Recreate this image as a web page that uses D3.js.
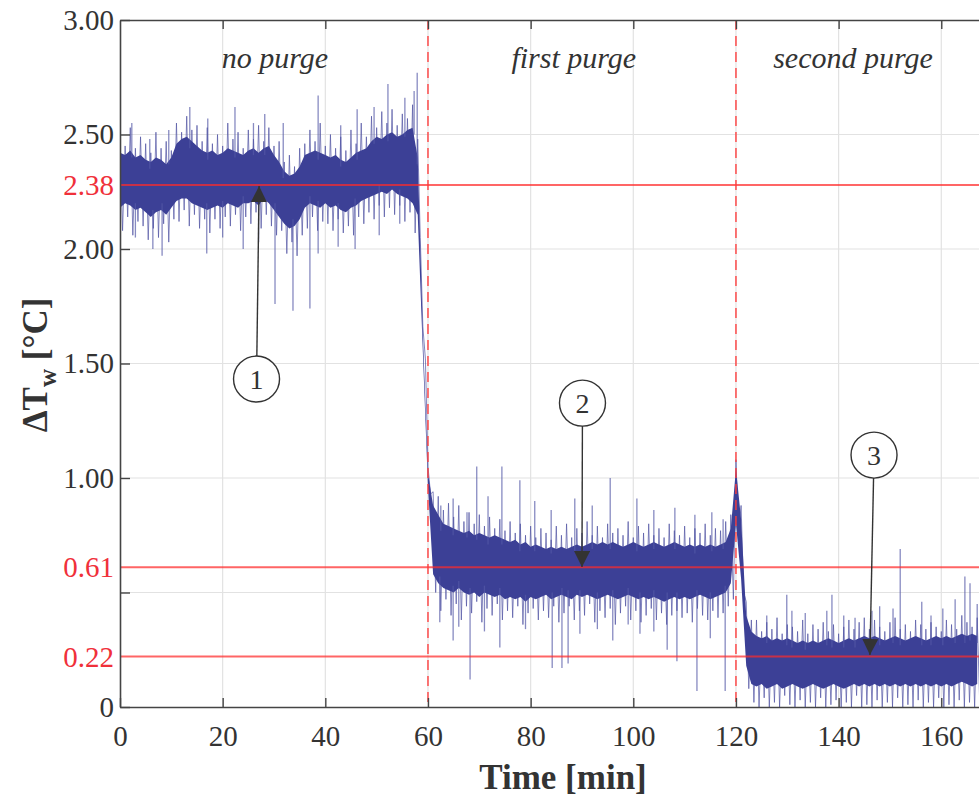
<!DOCTYPE html>
<html><head><meta charset="utf-8">
<script src="https://cdn.jsdelivr.net/npm/d3@7"></script>
<style>body{margin:0;background:#fff}</style>
</head><body><svg id="c" width="979" height="799"></svg>
<script>
// ---------- data ----------
const xTicks = [0,20,40,60,80,100,120,140,160];
const yTicks = [0,0.5,1,1.5,2,2.5,3];
const yTickLabels = ["0","","1.00","1.50","2.00","2.50","3.00"];
const refValues = [2.28, 0.61, 0.22];          // where the red lines are drawn in the picture
const refLabels = ["2.38","0.61","0.22"];
const phaseBounds = [60,120];
const phaseNames = ["no purge","first purge","second purge"];
const phaseLabelTimes = [30.2, 88.4, 142.8];
const phaseLabelValue = 2.79;

// dense core band of ΔTw per minute (index = minute 0..167)
const coreHi = [
 2.42,2.41,2.43,2.40,2.41, 2.39,2.38,2.40,2.39,2.37,2.40, 2.46,2.48,2.49,2.47,2.45,2.43,
 2.42,2.43,2.41,2.42,2.44,2.43,2.42,2.41, 2.43,2.44,2.42,2.44,2.45,2.41,2.38,
 2.34,2.32,2.33,2.36, 2.41,2.42,2.43,2.42,2.41, 2.40,2.41,2.39,2.38,2.40,2.42,2.43,2.44,
 2.47,2.49,2.48,2.50,2.51,2.49,2.50,2.52,2.53,
 2.40,1.63,1.02,0.88,
 .84,.80,.79,.78,.77,.76,.77,.75,.76,.75,.74,.75,.74,.73,.72,.73,.71,.72,.70,.71,.70,.69,.70,.69,
 .70,.69,.70,.71,.70,.71,.72,.71,.72,.71,.72,.71,.70,.71,.72,.71,.70,.71,.72,.71,.70,.71,.72,.71,
 .70,.71,.70,.71,.70,.71,.70,.71,.72,.78,
 1.04,.82,.40,.33,
 .31,.30,.31,.29,.30,.29,.30,.29,.28,.29,.28,.29,.28,.29,.30,.29,.28,.29,.30,.29,.30,.31,.30,.31,
 .30,.29,.30,.31,.30,.29,.30,.31,.30,.29,.30,.31,.30,.31,.30,.31,.32,.31,.32,.31
];
const coreLo = [
 2.18,2.20,2.19,2.17,2.18, 2.16,2.14,2.16,2.17,2.15,2.18, 2.21,2.22,2.22,2.20,2.19,2.18,
 2.17,2.18,2.19,2.18,2.20,2.19,2.18,2.20, 2.20,2.21,2.19,2.22,2.20,2.17,2.14,
 2.11,2.09,2.10,2.13, 2.18,2.20,2.19,2.18,2.20, 2.18,2.19,2.17,2.16,2.18,2.19,2.21,2.22,
 2.23,2.24,2.25,2.24,2.26,2.24,2.23,2.22,2.20,
 2.15,1.55,0.96,0.58,
 .54,.52,.51,.50,.52,.50,.49,.50,.48,.50,.49,.48,.49,.47,.48,.47,.48,.46,.48,.47,.48,.49,.47,.48,
 .49,.48,.47,.49,.48,.49,.48,.47,.48,.49,.48,.47,.48,.49,.48,.47,.48,.47,.48,.47,.46,.47,.48,.47,
 .48,.47,.48,.49,.48,.47,.48,.49,.50,.54,
 .80,.56,.18,.10,
 .09,.10,.08,.09,.10,.08,.09,.10,.09,.08,.09,.10,.09,.08,.09,.10,.09,.08,.09,.10,.09,.10,.09,.10,
 .09,.10,.09,.10,.09,.10,.09,.10,.09,.10,.09,.10,.09,.10,.09,.10,.11,.10,.09,.10
];
// ragged outer fringe of the noise per minute
const fringeHi = [
 2.50,2.45,2.53,2.44,2.49, 2.46,2.42,2.51,2.44,2.47,2.43, 2.55,2.51,2.58,2.52,2.54,2.47,
 2.53,2.46,2.50,2.45,2.55,2.48,2.51,2.44, 2.52,2.48,2.54,2.47,2.53,2.45,2.47,
 2.38,2.41,2.36,2.44, 2.46,2.52,2.47,2.55,2.45, 2.50,2.44,2.49,2.43,2.52,2.46,2.55,2.49,
 2.58,2.53,2.60,2.55,2.61,2.54,2.59,2.57,2.63,
 2.48,1.66,1.05,0.94,
 .92,.86,.89,.83,.88,.81,.85,.80,.84,.79,.83,.78,.82,.77,.81,.76,.80,.75,.79,.74,.78,.76,.73,.79,
 .75,.80,.74,.78,.76,.81,.75,.79,.74,.80,.76,.78,.75,.81,.74,.79,.76,.80,.75,.78,.74,.80,.77,.75,
 .79,.74,.78,.76,.80,.75,.78,.77,.81,.84,
 1.08,.88,.46,.38,
 .38,.33,.37,.34,.39,.32,.36,.35,.33,.38,.32,.36,.34,.37,.33,.36,.32,.35,.38,.34,.37,.39,.34,.38,
 .35,.33,.37,.39,.34,.36,.33,.38,.36,.34,.37,.35,.33,.38,.36,.34,.40,.37,.35,.39
];
const fringeLo = [
 2.08,2.14,2.06,2.12,2.10, 2.04,2.09,2.05,2.11,2.03,2.13, 2.12,2.17,2.10,2.15,2.09,2.13,
 2.07,2.13,2.09,2.14,2.10,2.15,2.08,2.14, 2.11,2.16,2.09,2.15,2.10,2.06,2.08,
 1.98,2.03,1.97,2.06, 2.09,2.14,2.08,2.12,2.11, 2.08,2.13,2.07,2.10,2.06,2.14,2.11,2.16,
 2.13,2.19,2.14,2.18,2.15,2.19,2.12,2.16,2.07,
 2.05,1.52,0.93,0.50,
 .42,.47,.40,.45,.38,.44,.41,.46,.37,.43,.40,.45,.38,.42,.39,.44,.36,.41,.43,.38,.42,.39,.44,.37,
 .41,.44,.38,.42,.40,.45,.37,.42,.39,.43,.36,.41,.44,.38,.42,.37,.40,.43,.38,.41,.36,.40,.42,.39,
 .41,.37,.43,.40,.38,.42,.39,.41,.44,.47,
 .75,.50,.08,.02,
 .00,.04,.00,.02,.00,.05,.01,.00,.03,.00,.02,.00,.04,.00,.01,.03,.00,.02,.00,.05,.00,.01,.00,.03,
 .00,.02,.00,.04,.00,.01,.00,.03,.00,.02,.00,.04,.00,.01,.00,.03,.00,.02,.00,.01
];
// isolated spikes [minute, value]
const spikesUp = [
 [2.3,2.55],[5.8,2.48],[9.5,2.52],[13.6,2.62],[17.1,2.57],[22.4,2.62],[26,2.55],[28.2,2.59],
 [31.8,2.55],[38.6,2.67],[43,2.54],[46.2,2.61],[49.5,2.62],[52.2,2.72],[55.5,2.66],[57.3,2.69],[57.9,2.77],
 [62.5,0.88],[64.9,0.91],[67.6,0.85],[69.5,1.05],[71.7,0.92],[74.4,1.05],[77.9,0.99],[80.8,0.90],
 [84,0.86],[88.6,0.91],[92,0.88],[95.5,1.00],[100.7,0.91],[104,0.86],[108.1,0.87],[112,0.84],
 [115.3,0.85],[117.5,0.82],
 [126,0.40],[129.9,0.49],[130.9,0.42],[133.5,0.41],[137.7,0.42],[138.7,0.49],[141,0.40],[143.2,0.39],
 [146.5,0.42],[148,0.44],[150.6,0.43],[152,0.69],[156.2,0.46],[158,0.40],[160.3,0.43],[162.7,0.47],
 [164.6,0.57],[165.6,0.54],[167,0.45]
];
const spikesDown = [
 [3,2.05],[6.4,2.00],[8.2,1.97],[16.9,1.98],[20,2.05],[24,2.00],[27,2.03],[30.2,1.76],[33.7,1.73],
 [37,1.74],[38.6,1.98],[42.5,2.01],[45.8,2.00],[50.5,2.06],[54.5,2.11],
 [62.3,0.37],[64.9,0.29],[66,0.35],[68.2,0.12],[71,0.33],[74,0.26],[79,0.34],[84.2,0.17],[86.1,0.17],
 [87.3,0.19],[89.6,0.32],[93,0.34],[96,0.29],[99,0.36],[101.3,0.32],[104,0.33],[106.6,0.25],
 [108.5,0.20],[112.4,0.07],[115,0.30],[117.9,0.07]
];
// numbered call-outs: circle centre and arrow tip in data units
const annNums = ["1","2","3"];
const annCircleT = [26.6, 90.1, 146.9];
const annCircleV = [1.432, 1.327, 1.100];
const annTipT = [27.1, 90.0, 146.1];
const annTipV = [2.275, 0.611, 0.227];

// ---------- drawing ----------
const svg = d3.select("#c");
const L = 120, R = 979, T = 20, B = 707;
const x = d3.scaleLinear([0, 167.35], [L, R]);
const y = d3.scaleLinear([0, 3], [B, T]);
const serif = "'Liberation Serif','Times New Roman',serif";
const blue = "#3c4096";

svg.append("defs").append("clipPath").attr("id","clip")
  .append("rect").attr("x",L).attr("y",T).attr("width",R-L).attr("height",B-T);

// grid
const grid = svg.append("g").attr("stroke","#e2e2e2").attr("stroke-width",1.2);
grid.selectAll(".gx").data(xTicks.filter(d=>d>0)).join("line")
  .attr("x1",d=>x(d)).attr("x2",d=>x(d)).attr("y1",T).attr("y2",B);
grid.selectAll(".gy").data(yTicks.filter(d=>d>0&&d<3)).join("line")
  .attr("x1",L).attr("x2",R).attr("y1",d=>y(d)).attr("y2",d=>y(d));

const plot = svg.append("g").attr("clip-path","url(#clip)");
const minutes = d3.range(coreHi.length);

// fringe zigzag
const zig = [];
minutes.forEach(i => { zig.push([i, fringeHi[i]]); zig.push([i+0.5, fringeLo[i]]); });
plot.append("path").datum(zig)
  .attr("d", d3.line().x(d=>x(d[0])).y(d=>y(d[1])))
  .attr("fill","none").attr("stroke","#5357a5").attr("stroke-width",0.9).attr("stroke-opacity",0.8);

// core band
plot.append("path").datum(minutes)
  .attr("d", d3.area().x(i=>x(i)).y0(i=>y(coreLo[i])).y1(i=>y(coreHi[i])))
  .attr("fill", blue);

// spikes
const nearest = t => Math.min(coreHi.length-1, Math.max(0, Math.round(t)));
plot.append("g").selectAll("line").data(spikesUp).join("line")
  .attr("x1",d=>x(d[0])).attr("x2",d=>x(d[0]))
  .attr("y1",d=>y(coreHi[nearest(d[0])]-0.03)).attr("y2",d=>y(d[1]))
  .attr("stroke","#5458a6").attr("stroke-width",1.3).attr("stroke-opacity",0.7);
plot.append("g").selectAll("line").data(spikesDown).join("line")
  .attr("x1",d=>x(d[0])).attr("x2",d=>x(d[0]))
  .attr("y1",d=>y(coreLo[nearest(d[0])]+0.03)).attr("y2",d=>y(d[1]))
  .attr("stroke","#5458a6").attr("stroke-width",1.3).attr("stroke-opacity",0.7);

// red reference lines
svg.append("g").selectAll("line").data(refValues).join("line")
  .attr("x1",L).attr("x2",R).attr("y1",d=>y(d)).attr("y2",d=>y(d))
  .attr("stroke","#ff2a2a").attr("stroke-opacity",0.72).attr("stroke-width",2);
svg.append("g").selectAll("line").data(phaseBounds).join("line")
  .attr("x1",d=>x(d)).attr("x2",d=>x(d)).attr("y1",T).attr("y2",B)
  .attr("stroke","#ff3b3b").attr("stroke-opacity",0.85).attr("stroke-width",1.6)
  .attr("stroke-dasharray","10,6");

// axes
function styleAxis(g){
  g.select(".domain").attr("stroke","#444").attr("stroke-width",1.6);
  g.selectAll(".tick line").attr("stroke","#444").attr("stroke-width",1.4);
  g.selectAll("text").attr("font-family",serif).attr("font-size",29).attr("fill","#333");
}
svg.append("g").attr("transform",`translate(0,${B})`)
  .call(d3.axisBottom(x).tickValues(xTicks).tickSize(-9).tickSizeOuter(0).tickPadding(18).tickFormat(d3.format("d")))
  .call(styleAxis);
svg.append("g").attr("transform",`translate(0,${T})`)
  .call(d3.axisTop(x).tickValues(xTicks.filter(d=>d>0)).tickSize(-9).tickSizeOuter(0).tickFormat(""))
  .call(styleAxis);
svg.append("g").attr("transform",`translate(${L},0)`)
  .call(d3.axisLeft(y).tickValues(yTicks).tickSize(-10).tickSizeOuter(0).tickPadding(6)
    .tickFormat((d,i)=>yTickLabels[i]))
  .call(styleAxis);

// red labels
svg.append("g").selectAll("text").data(refValues).join("text")
  .attr("x",L-6).attr("y",d=>y(d)).attr("dy","0.35em").attr("text-anchor","end")
  .attr("font-family",serif).attr("font-size",29).attr("fill","#f0303a")
  .text((d,i)=>refLabels[i]);

// phase labels
svg.append("g").selectAll("text").data(phaseNames).join("text")
  .attr("x",(d,i)=>x(phaseLabelTimes[i])).attr("y",y(phaseLabelValue))
  .attr("text-anchor","middle").attr("font-family",serif).attr("font-style","italic")
  .attr("font-size",30).attr("fill","#333").text(d=>d);

// annotations
svg.append("defs").append("marker").attr("id","arr").attr("viewBox","0 0 10 10")
  .attr("refX",10).attr("refY",5).attr("markerWidth",16).attr("markerHeight",16)
  .attr("markerUnits","userSpaceOnUse").attr("orient","auto")
  .append("path").attr("d","M0,0 L10,5 L0,10 z").attr("fill","#333");
const r = 23;
const ann = svg.append("g");
annNums.forEach((n,i)=>{
  const cx = x(annCircleT[i]), cy = y(annCircleV[i]);
  const tx = x(annTipT[i]), ty = y(annTipV[i]);
  const ang = Math.atan2(ty-cy, tx-cx);
  ann.append("line").attr("x1",cx+r*Math.cos(ang)).attr("y1",cy+r*Math.sin(ang))
    .attr("x2",tx).attr("y2",ty).attr("stroke","#333").attr("stroke-width",1.4)
    .attr("marker-end","url(#arr)");
  ann.append("circle").attr("cx",cx).attr("cy",cy).attr("r",r)
    .attr("fill","#fff").attr("stroke","#333").attr("stroke-width",1.4);
  ann.append("text").attr("x",cx).attr("y",cy).attr("dy","0.35em").attr("text-anchor","middle")
    .attr("font-family",serif).attr("font-size",28).attr("fill","#333").text(n);
});

// axis titles
svg.append("text").attr("x",563).attr("y",789).attr("text-anchor","middle")
  .attr("font-family",serif).attr("font-weight","bold").attr("font-size",35).attr("fill","#333")
  .text("Time [min]");
const yl = svg.append("text").attr("transform","translate(47,365) rotate(-90)")
  .attr("text-anchor","middle").attr("font-family",serif).attr("font-weight","bold")
  .attr("font-size",35).attr("fill","#333");
yl.append("tspan").text("ΔT");
yl.append("tspan").attr("dy",9).attr("font-size",25).text("w");
yl.append("tspan").attr("dy",-9).text(" [°C]");
</script></body></html>
